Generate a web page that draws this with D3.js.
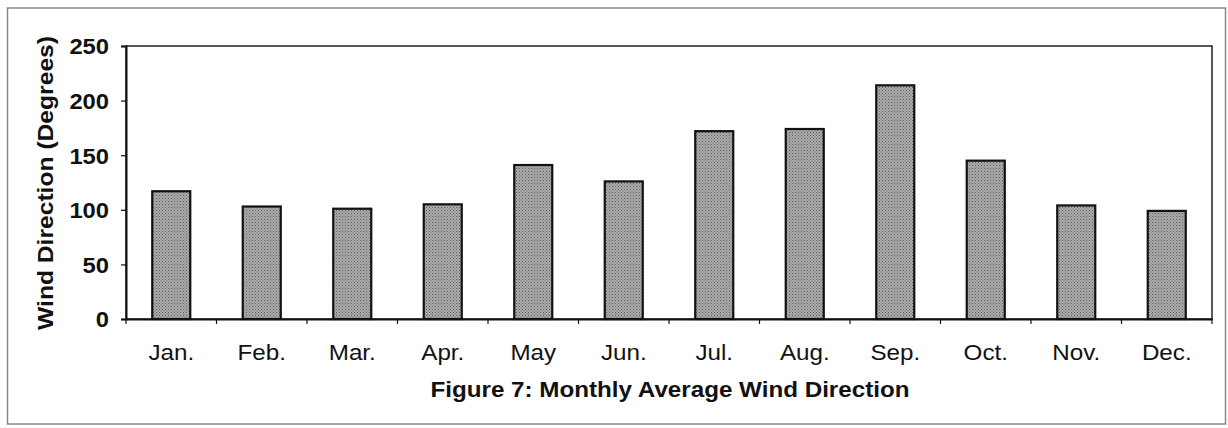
<!DOCTYPE html>
<html><head><meta charset="utf-8">
<script src="https://cdn.jsdelivr.net/npm/d3@7"></script>
<style>body{margin:0;background:#fff}svg{display:block}text{font-family:Arial,"Liberation Sans",sans-serif}</style>
</head><body>
<svg id="c" width="1228" height="428"></svg>
<script>
const months = ["Jan.","Feb.","Mar.","Apr.","May","Jun.","Jul.","Aug.","Sep.","Oct.","Nov.","Dec."];
const windDirection = [117,103,101,105,141,126,172,174,214,145,104,99];
const yTicks = [0,50,100,150,200,250];
const yLabel = "Wind Direction (Degrees)";
const title = "Figure 7: Monthly Average Wind Direction";

const svg = d3.select("#c");
const m = {l:126, r:1212, t:46, b:319};
const FS = 22;

const defs = svg.append("defs");
const pat = defs.append("pattern").attr("id","dots").attr("width",3).attr("height",3).attr("patternUnits","userSpaceOnUse");
pat.append("rect").attr("width",3).attr("height",3).attr("fill","#ababab");
pat.append("rect").attr("x",0).attr("y",0).attr("width",1).attr("height",1).attr("fill","#5e5e5e");
pat.append("rect").attr("x",1.5).attr("y",1.5).attr("width",1).attr("height",1).attr("fill","#707070");

// outer frame
svg.append("rect").attr("x",7.5).attr("y",8).attr("width",1218).attr("height",416)
  .attr("fill","none").attr("stroke","#8a8a8a").attr("stroke-width",1.5);

const x = d3.scaleBand().domain(months).range([m.l,m.r]).paddingInner(0.58).paddingOuter(0.29);
const y = d3.scaleLinear().domain([0,250]).range([m.b,m.t]);

// plot border
svg.append("rect").attr("x",m.l).attr("y",m.t).attr("width",m.r-m.l).attr("height",m.b-m.t)
  .attr("fill","none").attr("stroke","#222").attr("stroke-width",1.5);

// bars
svg.append("g").selectAll("rect").data(windDirection).join("rect")
  .attr("x",(d,i)=>x(months[i])).attr("width",x.bandwidth())
  .attr("y",d=>y(d)).attr("height",d=>y(0)-y(d))
  .attr("fill","url(#dots)").attr("stroke","#111").attr("stroke-width",2.2);

// y axis
const ya = svg.append("g").attr("transform",`translate(${m.l},0)`)
  .call(d3.axisLeft(y).tickValues(yTicks).tickSize(5).tickPadding(12));
ya.select(".domain").attr("stroke","#111").attr("stroke-width",2);
ya.selectAll(".tick line").attr("stroke","#111").attr("stroke-width",1.2);
ya.selectAll(".tick text").attr("font-size",FS).attr("fill","#111").attr("font-weight","bold").attr("dy","0.36em")
  .attr("transform","scale(1.08,1)").attr("x",-17/1.08);

// x axis
const xa = svg.append("g").attr("transform",`translate(0,${m.b})`)
  .call(d3.axisBottom(x).tickSize(0).tickPadding(0));
xa.select(".domain").attr("stroke","#111").attr("stroke-width",2.2);
xa.selectAll(".tick text").attr("font-size",FS).attr("fill","#111").attr("dy",null).attr("y",41)
  .attr("transform","scale(1.1,1)");
// band boundary ticks
const bounds = months.map(mo=>x(mo)-x.step()*x.paddingInner()/2).concat([m.r]);
xa.append("g").selectAll("line").data(bounds).join("line")
  .attr("x1",d=>d).attr("x2",d=>d).attr("y1",0).attr("y2",5)
  .attr("stroke","#111").attr("stroke-width",1.2);

// y label
svg.append("text").attr("transform",`translate(53,183) rotate(-90) scale(1.12,1)`)
  .attr("text-anchor","middle").attr("font-size",FS).attr("font-weight","bold").attr("fill","#111").text(yLabel);

// title
svg.append("text").attr("transform","translate(670,397) scale(1.1,1)").attr("text-anchor","middle")
  .attr("font-size",FS).attr("font-weight","bold").attr("fill","#111").text(title);
</script>
</body></html>
